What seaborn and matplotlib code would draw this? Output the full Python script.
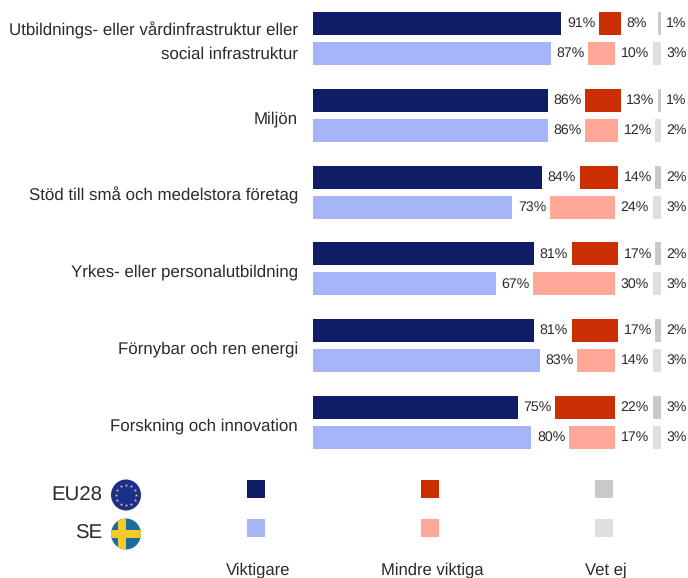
import numpy as np
import matplotlib
matplotlib.use("Agg")
import matplotlib.pyplot as plt
from matplotlib.patches import Ellipse, Rectangle
import seaborn as sns

categories = [
    "Utbildnings- eller vårdinfrastruktur eller\nsocial infrastruktur",
    "Miljön",
    "Stöd till små och medelstora företag",
    "Yrkes- eller personalutbildning",
    "Förnybar och ren energi",
    "Forskning och innovation",
]
eu_more = np.array([91, 86, 84, 81, 81, 75])
eu_less = np.array([8, 13, 14, 17, 17, 22])
eu_dk = np.array([1, 1, 2, 2, 2, 3])
se_more = np.array([87, 86, 73, 67, 83, 80])
se_less = np.array([10, 12, 24, 30, 14, 17])
se_dk = np.array([3, 2, 3, 3, 3, 3])

legend_labels = ["Viktigare", "Mindre viktiga", "Vet ej"]
eu_colors = ["#0F1C66", "#CC2E03", "#C8C9CB"]
se_colors = ["#A6B5FA", "#FFA897", "#DEDEDE"]

FONT = "Liberation Sans"
TEXT = "#2b2b2b"
W, H = 688, 578
PX_PER_UNIT = 2.73
GAP = 13.7
ROW_PX = 76.8

sns.set_theme(style="white")
plt.rcParams["font.family"] = [FONT, "DejaVu Sans"]
plt.rcParams["text.hinting"] = "none"

fig = plt.figure(figsize=(W / 100, H / 100), dpi=100)
ax = fig.add_axes([0, 0, 1, 1])
top = -38.5 / ROW_PX

rows = np.arange(len(categories), dtype=float)


def draw_series(rows_y, more, less, dk, colors):
    """Draw the three separated segments of one region."""
    lefts = [np.zeros(len(more)), more + GAP, more + less + 2 * GAP]
    for values, left, color in zip([more, less, dk], lefts, colors):
        sns.barplot(
            x=values, y=rows_y, left=left, color=color, orient="y",
            native_scale=True, width=0.3, saturation=1, ax=ax,
            edgecolor="none", errorbar=None,
        )
        ax.bar_label(
            ax.containers[-1], labels=[f"{v}%" for v in values], padding=4,
            fontsize=10.2, color=TEXT,
        )


draw_series(rows - 0.195, eu_more, eu_less, eu_dk, eu_colors)
draw_series(rows + 0.195, se_more, se_less, se_dk, se_colors)

ax.set_xlim(-313 / PX_PER_UNIT, (W - 313) / PX_PER_UNIT)
ax.set_ylim(top + H / ROW_PX, top)
ax.axis("off")

for row, label in zip(rows, categories):
    ax.text(-15 / PX_PER_UNIT, row + 3.5 / ROW_PX, label, ha="right", va="center",
            fontsize=12.15, color=TEXT, linespacing=1.65)

# legend area, in pixels
leg = fig.add_axes([0, 0, 1, 1])
leg.set_xlim(0, W)
leg.set_ylim(H, 0)
leg.axis("off")
leg.patch.set_alpha(0)

for x, eu_c, se_c, label in zip([247, 421, 595], eu_colors, se_colors, legend_labels):
    leg.add_patch(Rectangle((x, 480), 18, 18, color=eu_c, lw=0))
    leg.add_patch(Rectangle((x, 519), 18, 18, color=se_c, lw=0))
    leg.text(x + 11, 570, label, ha="center", va="center", fontsize=12, color=TEXT)

leg.text(102, 496, "EU28", ha="right", va="center", fontsize=14.7, color=TEXT)
leg.text(102, 534, "SE", ha="right", va="center", fontsize=14.7, color=TEXT)

# EU flag
leg.add_patch(Ellipse((126, 495), 30, 31, color="#1B2F8F", lw=0))
angles = np.deg2rad(np.arange(0, 360, 30))
leg.scatter(126 + 10 * np.cos(angles), 495 + 10 * np.sin(angles),
            s=6, color="#F2D02E", marker="*", linewidths=0)

# Swedish flag
se_flag = Ellipse((126, 534), 30, 31, color="#1B6E9C", lw=0)
leg.add_patch(se_flag)
for rect in [Rectangle((111, 530), 30, 8, color="#F5C92B", lw=0),
             Rectangle((118, 518), 8, 32, color="#F5C92B", lw=0)]:
    leg.add_patch(rect)
    rect.set_clip_path(se_flag)

fig.savefig("out.png", dpi=100)
plt.close(fig)
